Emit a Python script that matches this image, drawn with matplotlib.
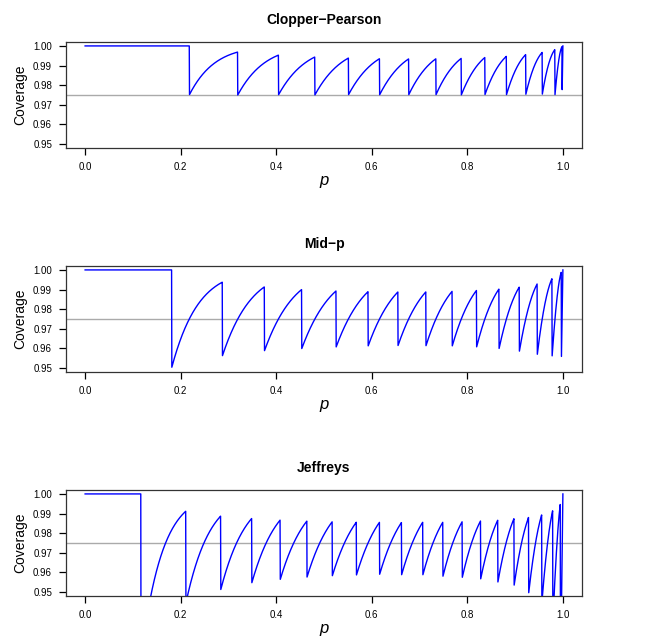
import math
import numpy as np
import matplotlib
matplotlib.use("Agg")
import matplotlib.pyplot as plt

plt.rcParams['font.family'] = ['Liberation Sans', 'DejaVu Sans']

# chart set-up
methods = ["Clopper\u2212Pearson", "Mid\u2212p", "Jeffreys"]
sample_sizes = [15, 15, 20]
level = 0.975
x_ticks = [0.0, 0.2, 0.4, 0.6, 0.8, 1.0]
y_ticks = [0.95, 0.96, 0.97, 0.98, 0.99, 1.00]
p_grid = np.linspace(0, 1, 2001)


def pmf(x, n, p):
    return math.comb(n, x) * p ** x * (1 - p) ** (n - x)


def cdf(x, n, p):
    return sum(pmf(k, n, p) for k in range(x + 1)) if x >= 0 else 0.0


def betacf(a, b, x):
    qab, qap, qam = a + b, a + 1, a - 1
    c, d = 1.0, 1 - qab * x / qap
    d = 1 / (d if abs(d) > 1e-30 else 1e-30)
    h = d
    for m in range(1, 300):
        m2 = 2 * m
        aa = m * (b - m) * x / ((qam + m2) * (a + m2))
        d = 1 + aa * d
        d = 1 / (d if abs(d) > 1e-30 else 1e-30)
        c = 1 + aa / c
        c = c if abs(c) > 1e-30 else 1e-30
        h *= d * c
        aa = -(a + m) * (qab + m) * x / ((a + m2) * (qap + m2))
        d = 1 + aa * d
        d = 1 / (d if abs(d) > 1e-30 else 1e-30)
        c = 1 + aa / c
        c = c if abs(c) > 1e-30 else 1e-30
        de = d * c
        h *= de
        if abs(de - 1) < 1e-12:
            break
    return h


def betainc(a, b, x):
    if x <= 0:
        return 0.0
    if x >= 1:
        return 1.0
    bt = math.exp(math.lgamma(a + b) - math.lgamma(a) - math.lgamma(b)
                  + a * math.log(x) + b * math.log(1 - x))
    if x < (a + 1) / (a + b + 2):
        return bt * betacf(a, b, x) / a
    return 1 - bt * betacf(b, a, 1 - x) / b


def solve(f, target, increasing):
    lo, hi = 0.0, 1.0
    for _ in range(80):
        mid = (lo + hi) / 2
        v = f(mid)
        if (v < target) == increasing:
            lo = mid
        else:
            hi = mid
    return (lo + hi) / 2


def upper_bounds(method, n):
    ub = []
    for x in range(n):
        if method.startswith("Clopper"):
            u = solve(lambda p: cdf(x, n, p), 1 - level, False)
        elif method.startswith("Mid"):
            u = solve(lambda p: cdf(x - 1, n, p) + 0.5 * pmf(x, n, p), 1 - level, False)
        else:
            u = solve(lambda p: betainc(x + 0.5, n - x + 0.5, p), level, True)
        ub.append(u)
    ub.append(1.0)
    return np.array(ub)


def coverage(method, n):
    ub = upper_bounds(method, n)
    cov = np.zeros_like(p_grid)
    for x in range(n + 1):
        cov += pmf(x, n, p_grid) * (ub[x] >= p_grid)
    return cov


fig = plt.figure(figsize=(6.56, 6.36), dpi=100)
W, H = 656, 636
tops = [42, 266, 490]
for method, n, top in zip(methods, sample_sizes, tops):
    ax = fig.add_axes([66 / W, 1 - (top + 106) / H, 516 / W, 106 / H])
    ax.axhline(level, color="#aaaaaa", lw=1)
    ax.plot(p_grid, coverage(method, n), color="blue", lw=1)
    ax.set_xlim(-0.04, 1.04)
    ax.set_ylim(0.948, 1.002)
    ax.set_xticks(x_ticks)
    ax.set_xticklabels([f"{t:.1f}" for t in x_ticks])
    ax.set_yticks(y_ticks)
    ax.set_yticklabels([f"{t:.2f}" for t in y_ticks])
    ax.tick_params(labelsize=7, length=5, width=0.9, pad=5)
    for s in ax.spines.values():
        s.set_linewidth(0.9)
        s.set_color("#333333")
    ax.set_title(method, fontsize=10, fontweight="bold", pad=13)
    ax.set_xlabel("p", fontsize=12, style="italic", labelpad=1)
    ax.set_ylabel("Coverage", fontsize=10, labelpad=4)

fig.savefig("out.png", dpi=100)
